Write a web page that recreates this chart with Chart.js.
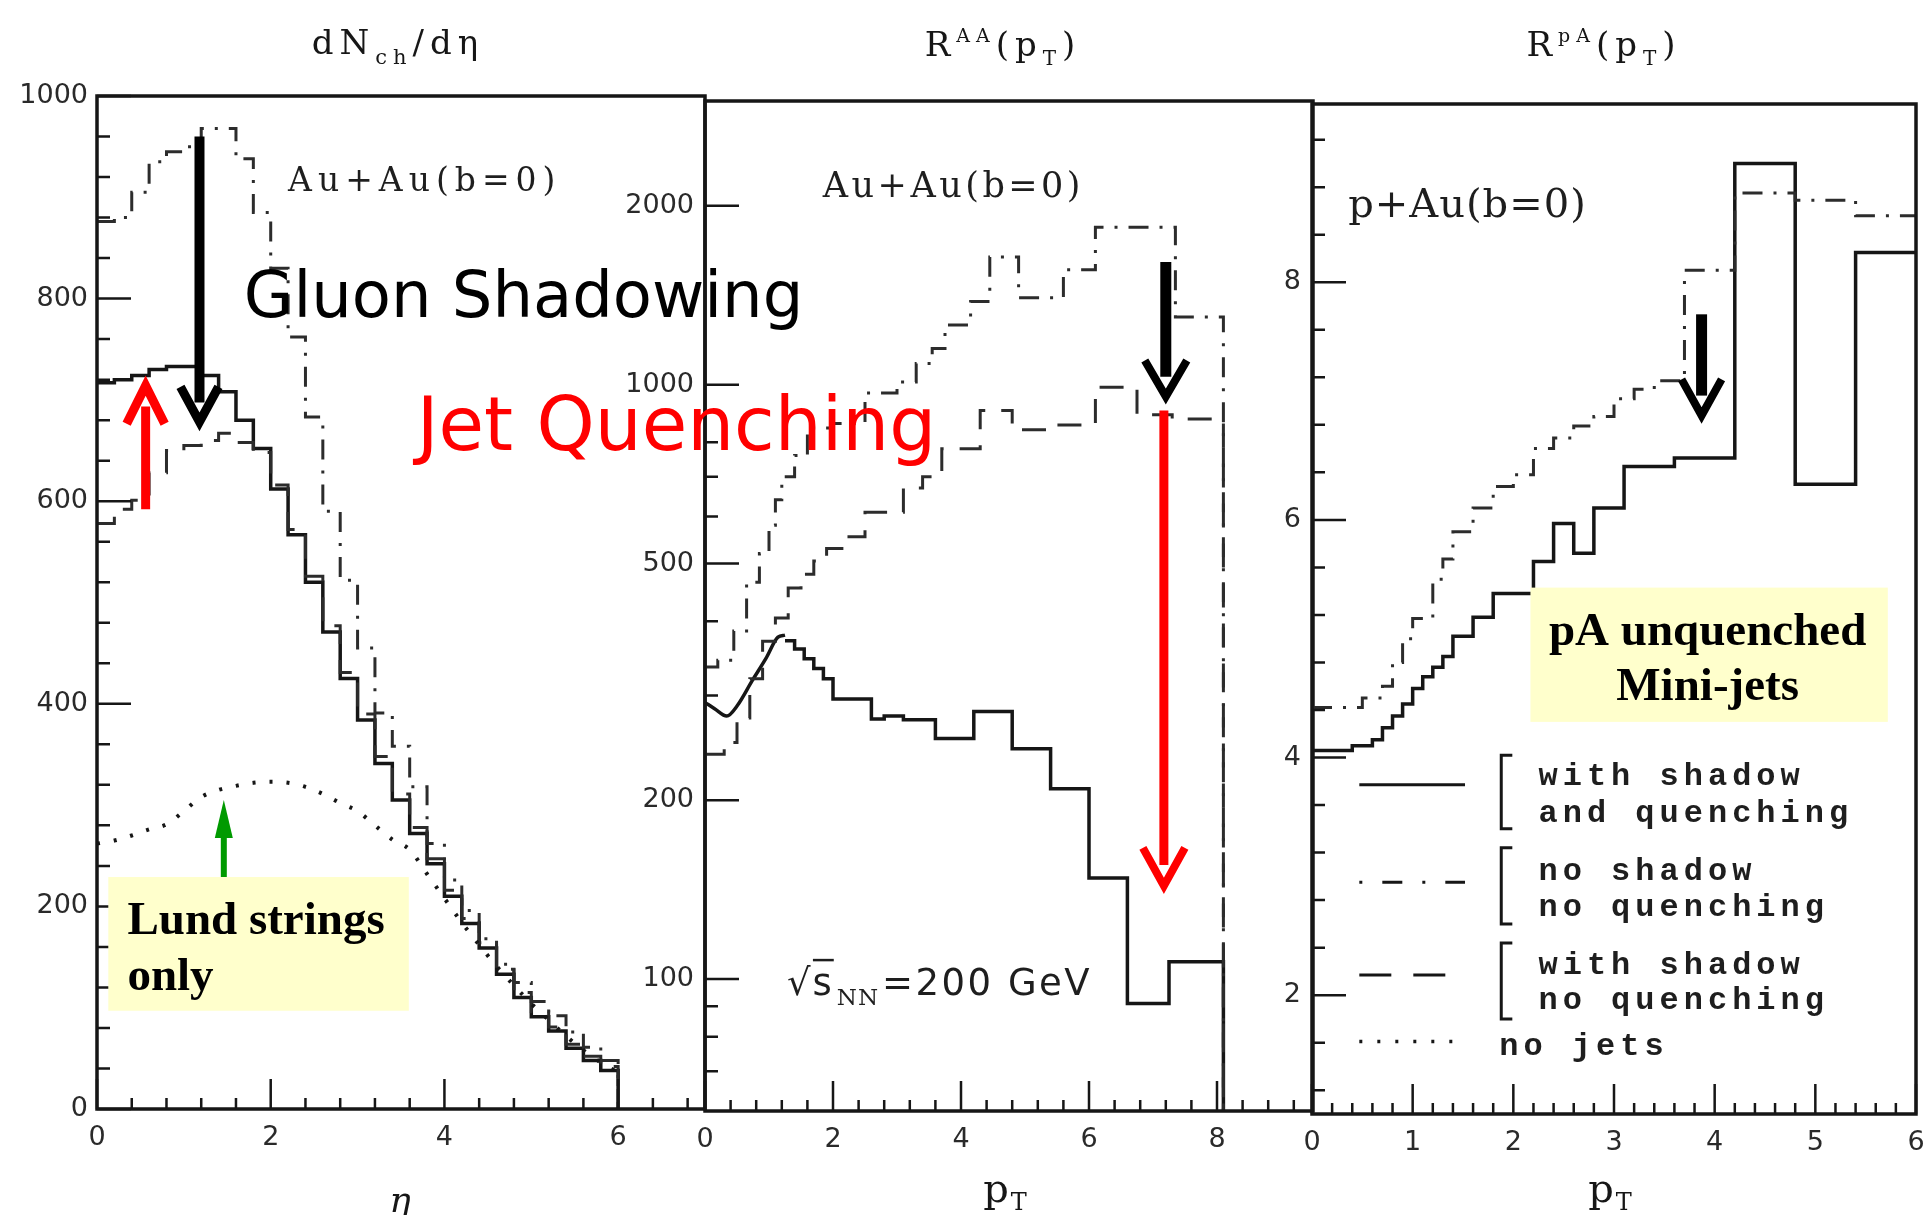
<!DOCTYPE html>
<html>
<head>
<meta charset="utf-8">
<script src="https://cdn.jsdelivr.net/npm/chart.js@4.4.1/dist/chart.umd.min.js"></script>
<style>
  html, body { margin: 0; padding: 0; background: #fff; }
  #wrap { position: relative; width: 1924px; height: 1215px; overflow: hidden; }
  canvas { position: absolute; left: 0; top: 0; }
</style>
</head>
<body>
<div id="wrap">
  <canvas id="c1" width="1924" height="1215"></canvas>
  <canvas id="c2" width="1924" height="1215"></canvas>
  <canvas id="c3" width="1924" height="1215"></canvas>
</div>
<script>
// ---- panel 1: dNch/deta, Au+Au ----
const etaEdges = [0,0.2,0.4,0.6,0.8,1,1.2,1.4,1.6,1.8,2,2.2,2.4,2.6,2.8,3,3.2,3.4,3.6,3.8,4,4.2,4.4,4.6,4.8,5,5.2,5.4,5.6,5.8,6];
const dndetaShadowQuench = [717,720,724,730,733,733,724,708,680,652,612,567,520,471,425,384,341,305,272,242,210,183,159,133,110,91,77,60,48,38];
const dndetaShadowNoQuench = [578,592,601,628,650,655,660,667,658,648,616,572,526,477,431,390,348,311,278,247,216,188,164,138,115,96,81,64,52,42];
const dndetaNoShadow = [876,880,905,935,945,950,968,968,938,885,830,762,683,590,522,455,391,358,318,262,226,196,168,143,125,106,92,76,61,48];
const dndetaNoJets = [262,265,270,276,281,294,308,315,319,322,323,322,318,311,302,294,280,266,256,232,208,184,162,141,122,104,88,72,58,46,36];
const etaTicks = [0,2,4,6];
const dndetaTicks = [0,200,400,600,800,1000];

// ---- panel 2: R_AA(pT), log scale ----
const ptSmoothQ = [0,0.15,0.34,0.5,0.74,0.95,1.14,1.25];
const raaSmoothQ = [292,285,277,288,318,346,376,379];
const ptEdgesQ = [1.25,1.4,1.55,1.7,1.85,2,2.6,2.8,3.1,3.6,4.2,4.8,5.4,6,6.6,7.25,8.1];
const raaShadowQuench = [371,359,346,333,320,296,274,277,273,254,282,244,209,148,91,107];
const ptEdgesNQ = [0,0.3,0.5,0.7,0.9,1.1,1.3,1.5,1.7,1.9,2.2,2.5,3.1,3.4,3.7,4.3,4.8,5.4,6.1,6.75,7.3,8.1];
const raaShadowNoQuench = [239,250,275,320,370,405,455,480,505,530,555,610,670,700,780,905,840,855,990,890,875];
const ptEdgesNS = [0,0.2,0.45,0.65,0.85,1,1.1,1.2,1.4,1.6,2,2.5,3,3.3,3.55,3.75,4.15,4.45,4.9,5.6,6.1,7.35,8.1];
const raaNoShadow = [335,344,385,465,520,580,640,700,760,845,860,968,1010,1085,1150,1260,1380,1640,1400,1560,1840,1300];
const ptTicksAA = [0,2,4,6,8];
const raaTicks = [100,200,500,1000,2000];
const raaMinor = [70,80,90,300,400,600,700,800,900];

// ---- panel 3: R_pA(pT) ----
const ptEdgesPA = [0,0.4,0.6,0.7,0.8,0.9,1,1.1,1.2,1.3,1.4,1.6,1.8,2.2,2.4,2.6,2.8,3.1,3.6,4.2,4.8,5.4,6];
const rpaShadowQuench = [4.06,4.1,4.15,4.25,4.35,4.45,4.58,4.68,4.76,4.85,5.02,5.18,5.38,5.65,5.97,5.72,6.1,6.45,6.52,9.0,6.3,8.25];
const ptEdgesPA2 = [0,0.5,0.7,0.8,0.9,1,1.2,1.3,1.4,1.6,1.8,2,2.2,2.4,2.6,2.8,3,3.2,3.4,3.7,4.2,4.8,5.4,6];
const rpaNoShadow = [4.42,4.5,4.6,4.8,5.0,5.17,5.5,5.67,5.9,6.1,6.28,6.38,6.6,6.69,6.79,6.87,7.02,7.1,7.17,8.1,8.75,8.69,8.56];
const ptTicksPA = [0,1,2,3,4,5,6];
const rpaTicks = [2,4,6,8];

const legendNames = [['with shadow', 'and quenching'], ['no shadow', 'no quenching'], ['with shadow', 'no quenching'], ['no jets']];

const INK = '#161616';
const GREY = '#2c2c2c';
const SANS = '"DejaVu Sans", sans-serif';
const SERIF = '"DejaVu Serif", "Liberation Serif", serif';
const TIMES = '"Liberation Serif", "DejaVu Serif", serif';
const MONO = '"Liberation Mono", "DejaVu Sans Mono", monospace';
const DASHDOT = [20, 11, 3, 11];
const DASHED = [24, 16];
const DOTTED = [3, 14];

function histo(edges, vals, endY) {
  const pts = [];
  vals.forEach((v, i) => {
    pts.push({x: edges[i], y: v});
    pts.push({x: edges[i + 1], y: v});
  });
  if (endY !== undefined) pts.push({x: edges[edges.length - 1], y: endY});
  return pts;
}
function pairs(xs, ys) { return xs.map((x, i) => ({x: x, y: ys[i]})); }
function range(a, b, step) {
  const out = [];
  for (let v = a; v <= b + 1e-9; v += step) out.push(+v.toFixed(4));
  return out;
}

function series(data, dash, width, color, smooth) {
  return {
    data: data, borderColor: color || INK, borderWidth: width || 3, borderDash: dash || [],
    pointRadius: 0, fill: false, borderJoinStyle: 'miter',
    tension: smooth ? 0.4 : 0, cubicInterpolationMode: smooth ? 'monotone' : 'default'
  };
}

function axis(extra, ticks, fit, pad) {
  return Object.assign({
    bounds: 'data',
    grid: {display: false, drawTicks: false},
    border: {display: false},
    ticks: {color: '#2a2a2a', font: {family: SANS, size: 27}, padding: pad, autoSkip: false, maxRotation: 0,
            callback: v => String(v)},
    afterBuildTicks: s => { s.ticks = ticks.map(v => ({value: v})); },
    afterFit: fit
  }, extra);
}
const fixY = s => { s.width = 90; s.paddingTop = 0; s.paddingBottom = 0; s.paddingLeft = 0; s.paddingRight = 0; };
const fixX = s => { s.height = 60; s.paddingTop = 0; s.paddingBottom = 0; s.paddingLeft = 0; s.paddingRight = 0; };

// ---- drawing helpers ----
function frame(chart, xMinor, xMajor, yMinor, yMajor) {
  const {ctx, chartArea: a} = chart;
  const X = chart.scales.x, Y = chart.scales.y;
  ctx.save();
  ctx.strokeStyle = INK;
  ctx.lineWidth = 2.5;
  ctx.beginPath();
  xMinor.forEach(v => { const p = X.getPixelForValue(v); ctx.moveTo(p, a.bottom); ctx.lineTo(p, a.bottom - 11); });
  xMajor.forEach(v => { const p = X.getPixelForValue(v); ctx.moveTo(p, a.bottom); ctx.lineTo(p, a.bottom - 30); });
  yMinor.forEach(v => { const p = Y.getPixelForValue(v); ctx.moveTo(a.left, p); ctx.lineTo(a.left + 13, p); });
  yMajor.forEach(v => { const p = Y.getPixelForValue(v); ctx.moveTo(a.left, p); ctx.lineTo(a.left + 34, p); });
  ctx.stroke();
  ctx.lineWidth = 3.5;
  ctx.strokeRect(a.left, a.top, a.right - a.left, a.bottom - a.top);
  ctx.restore();
}

function put(ctx, str, x, y, font, color, align, spacing) {
  ctx.save();
  ctx.font = font; ctx.fillStyle = color; ctx.textAlign = align || 'left'; ctx.textBaseline = 'alphabetic';
  if ('letterSpacing' in ctx) ctx.letterSpacing = (spacing || 0) + 'px';
  ctx.fillText(str, x, y);
  ctx.restore();
}

function rich(ctx, parts, x, y, align, family, color, spacing) {
  ctx.save();
  ctx.fillStyle = color; ctx.textBaseline = 'alphabetic'; ctx.textAlign = 'left';
  if ('letterSpacing' in ctx) ctx.letterSpacing = (spacing || 0) + 'px';
  let w = 0;
  parts.forEach(p => { ctx.font = p.s + 'px ' + family; p.width = ctx.measureText(p.t).width; w += p.width; });
  let cx = align === 'center' ? x - w / 2 : x;
  parts.forEach(p => { ctx.font = p.s + 'px ' + family; ctx.fillText(p.t, cx, y + (p.dy || 0)); cx += p.width; });
  ctx.restore();
  return w;
}

// vertical arrow with open chevron head; yTip is the outer apex
function arrowV(ctx, x, yTail, yTip, color, shaftW, half, headH, lw) {
  const dir = yTip > yTail ? 1 : -1;
  const off = (lw / 2) / Math.sin(Math.atan(half / headH));
  const apex = yTip - dir * off;
  ctx.save();
  ctx.strokeStyle = color; ctx.lineCap = 'butt'; ctx.lineJoin = 'miter'; ctx.miterLimit = 10;
  ctx.lineWidth = shaftW;
  ctx.beginPath(); ctx.moveTo(x, yTail); ctx.lineTo(x, apex - dir * headH * 0.55); ctx.stroke();
  ctx.lineWidth = lw;
  ctx.beginPath();
  ctx.moveTo(x - half, apex - dir * headH); ctx.lineTo(x, apex); ctx.lineTo(x + half, apex - dir * headH);
  ctx.stroke();
  ctx.restore();
}

function makeChart(id, pad, scales, datasets, draw) {
  return new Chart(document.getElementById(id), {
    type: 'line',
    data: {datasets: datasets},
    options: {
      responsive: false, animation: false, devicePixelRatio: 1, events: [],
      layout: {padding: pad},
      plugins: {legend: {display: false}, tooltip: {enabled: false}},
      scales: scales
    },
    plugins: [{id: 'deco_' + id, afterDatasetsDraw: draw}]
  });
}

// ---------------- panel 1 ----------------
const chart1 = makeChart('c1', {left: 7, right: 1219, top: 96, bottom: 46}, {
  x: axis({type: 'linear', min: 0, max: 7}, etaTicks, fixX, 13),
  y: axis({type: 'linear', min: 0, max: 1000}, dndetaTicks, fixY, 9)
}, [
  series(pairs(etaEdges, dndetaNoJets), DOTTED, 4, INK, true),
  series(histo(etaEdges, dndetaShadowNoQuench, 0), DASHED, 3, GREY),
  series(histo(etaEdges, dndetaNoShadow, 0), DASHDOT, 3, GREY),
  series(histo(etaEdges, dndetaShadowQuench, 0), [], 3.5)
], chart => {
  const ctx = chart.ctx, X = chart.scales.x, Y = chart.scales.y;
  const px = v => X.getPixelForValue(v), py = v => Y.getPixelForValue(v);
  frame(chart, range(0.4, 6.8, 0.4), etaTicks, range(40, 960, 40), dndetaTicks);

  rich(ctx, [{t: 'dN', s: 34}, {t: 'ch', s: 21, dy: 10}, {t: '/dη', s: 34}], 398, 54, 'center', SERIF, INK, 6);
  put(ctx, 'η', 400, 1212, 'italic 36px ' + SERIF, INK, 'center');
  put(ctx, 'Au+Au(b=0)', px(2.2), py(906), '33px ' + SERIF, '#1e1e1e', 'left', 6);

  // Lund strings box + green arrow
  ctx.fillStyle = '#ffffcc';
  ctx.fillRect(px(0.13), py(229), px(3.59) - px(0.13), py(97) - py(229));
  put(ctx, 'Lund strings', px(0.35), py(173), 'bold 47px ' + TIMES, '#000');
  put(ctx, 'only', px(0.35), py(117), 'bold 47px ' + TIMES, '#000');
  ctx.save();
  ctx.fillStyle = '#009a00'; ctx.strokeStyle = '#009a00'; ctx.lineWidth = 6;
  const gx = px(1.46), gTip = py(305);
  ctx.beginPath(); ctx.moveTo(gx, py(229)); ctx.lineTo(gx, gTip + 30); ctx.stroke();
  ctx.beginPath(); ctx.moveTo(gx, gTip); ctx.lineTo(gx - 9, gTip + 38); ctx.lineTo(gx + 9, gTip + 38); ctx.closePath(); ctx.fill();
  ctx.restore();

  arrowV(ctx, px(0.56), py(592), py(724), '#ff0000', 9, 19, 38, 9);
  arrowV(ctx, px(1.18), py(960), py(669), '#000', 10, 19, 35, 9);
});

// ---------------- panel 2 ----------------
const chart2 = makeChart('c2', {left: 615, right: 611, top: 101, bottom: 44}, {
  x: axis({type: 'linear', min: 0, max: 9.5}, ptTicksAA, fixX, 13),
  y: axis({type: 'logarithmic', min: 60, max: 3000}, raaTicks, fixY, 11)
}, [
  series(histo(ptEdgesNS, raaNoShadow, 60), DASHDOT, 3, GREY),
  series(histo(ptEdgesNQ, raaShadowNoQuench, 60), DASHED, 3, GREY),
  series(pairs(ptSmoothQ, raaSmoothQ), [], 3.5, INK, true),
  series(histo(ptEdgesQ, raaShadowQuench, 60), [], 3.5)
], chart => {
  const ctx = chart.ctx, X = chart.scales.x, Y = chart.scales.y;
  const px = v => X.getPixelForValue(v), py = v => Y.getPixelForValue(v);
  frame(chart, range(0.4, 9.2, 0.4), ptTicksAA, raaMinor, raaTicks);

  rich(ctx, [{t: 'R', s: 34}, {t: 'AA', s: 19, dy: -14}, {t: '(p', s: 34}, {t: 'T', s: 20, dy: 9}, {t: ')', s: 34}],
       1003, 56, 'center', SERIF, INK, 6);
  rich(ctx, [{t: 'p', s: 40}, {t: 'T', s: 24, dy: 8}], 1006, 1202, 'center', SERIF, INK, 2);
  put(ctx, 'Au+Au(b=0)', px(1.84), py(2068), '35px ' + SERIF, '#1e1e1e', 'left', 3.5);

  // sqrt(s_NN) = 200 GeV
  const bx = px(1.28), by = py(94);
  const w1 = rich(ctx, [{t: '√s', s: 37}], bx, by, 'left', SANS, '#1e1e1e', 2);
  ctx.save(); ctx.strokeStyle = '#1e1e1e'; ctx.lineWidth = 2.5;
  ctx.beginPath(); ctx.moveTo(bx + 26, by - 35); ctx.lineTo(bx + w1, by - 35); ctx.stroke(); ctx.restore();
  const w2 = rich(ctx, [{t: 'NN', s: 23, dy: 10}], bx + w1 + 3, by, 'left', SERIF, '#1e1e1e', 1);
  rich(ctx, [{t: '=200 GeV', s: 37}], bx + w1 + w2 + 6, by, 'left', SANS, '#1e1e1e', 2.5);

  arrowV(ctx, px(7.17), py(905), py(139), '#ff0000', 9, 21, 38, 8);
  arrowV(ctx, px(7.2), py(1608), py(926), '#000', 11, 21, 36, 8);

  // overlay labels spanning the first two panels
  const s1 = chart1.scales;
  put(ctx, 'Gluon Shadowing', s1.x.getPixelForValue(1.69), s1.y.getPixelForValue(782), '64px ' + SANS, '#000');
  put(ctx, 'Jet Quenching', s1.x.getPixelForValue(3.68), s1.y.getPixelForValue(651), '74px ' + SANS, '#ff0000');
});

// ---------------- panel 3 ----------------
const chart3 = makeChart('c3', {left: 1222, right: 8, top: 104, bottom: 41}, {
  x: axis({type: 'linear', min: 0, max: 6}, ptTicksPA, fixX, 13),
  y: axis({type: 'linear', min: 1, max: 9.5}, rpaTicks, fixY, 11)
}, [
  series(histo(ptEdgesPA2, rpaNoShadow), DASHDOT, 3, GREY),
  series(histo(ptEdgesPA, rpaShadowQuench), [], 3.5)
], chart => {
  const ctx = chart.ctx, X = chart.scales.x, Y = chart.scales.y;
  const px = v => X.getPixelForValue(v), py = v => Y.getPixelForValue(v);
  frame(chart, range(0.2, 5.8, 0.2), ptTicksPA, range(1.2, 9.2, 0.4), rpaTicks);

  rich(ctx, [{t: 'R', s: 34}, {t: 'pA', s: 19, dy: -14}, {t: '(p', s: 34}, {t: 'T', s: 20, dy: 9}, {t: ')', s: 34}],
       1604, 56, 'center', SERIF, INK, 6);
  rich(ctx, [{t: 'p', s: 40}, {t: 'T', s: 24, dy: 8}], 1611, 1202, 'center', SERIF, INK, 2);
  put(ctx, 'p+Au(b=0)', px(0.36), py(8.55), '40px ' + SERIF, '#1e1e1e', 'left', 1);

  arrowV(ctx, px(3.87), py(7.73), py(6.81), '#000', 11, 20, 36, 8);

  // yellow label box
  ctx.fillStyle = '#ffffcc';
  ctx.fillRect(px(2.17), py(5.43), px(5.72) - px(2.17), py(4.30) - py(5.43));
  put(ctx, 'pA unquenched', px(3.93), py(4.95), 'bold 47px ' + TIMES, '#000', 'center');
  put(ctx, 'Mini-jets', px(3.93), py(4.48), 'bold 47px ' + TIMES, '#000', 'center');

  // legend
  const sampleY = [3.77, 2.95, 2.17, 1.61];
  const dashes = [[], [3, 20, 20, 20], [32, 22], [3, 15]];
  const textY = [[3.77, 3.46], [2.97, 2.67], [2.18, 1.88], [1.50]];
  const brackets = [[4.02, 3.40], [3.24, 2.60], [2.44, 1.80]];
  ctx.save();
  ctx.strokeStyle = INK;
  sampleY.forEach((v, i) => {
    ctx.lineWidth = i === 3 ? 3.5 : 3;
    ctx.setLineDash(dashes[i]);
    ctx.beginPath(); ctx.moveTo(px(0.47), py(v)); ctx.lineTo(px(1.52), py(v)); ctx.stroke();
  });
  ctx.setLineDash([]);
  ctx.lineWidth = 3;
  brackets.forEach(b => {
    ctx.beginPath();
    ctx.moveTo(px(1.99), py(b[0])); ctx.lineTo(px(1.88), py(b[0]));
    ctx.lineTo(px(1.88), py(b[1])); ctx.lineTo(px(1.99), py(b[1]));
    ctx.stroke();
  });
  ctx.restore();
  legendNames.forEach((lines, i) => {
    const lx = i === 3 ? px(1.86) : px(2.25);
    lines.forEach((t, j) => put(ctx, t, lx, py(textY[i][j]), 'bold 32px ' + MONO, '#1e1e1e', 'left', 5));
  });
});
</script>
</body>
</html>
